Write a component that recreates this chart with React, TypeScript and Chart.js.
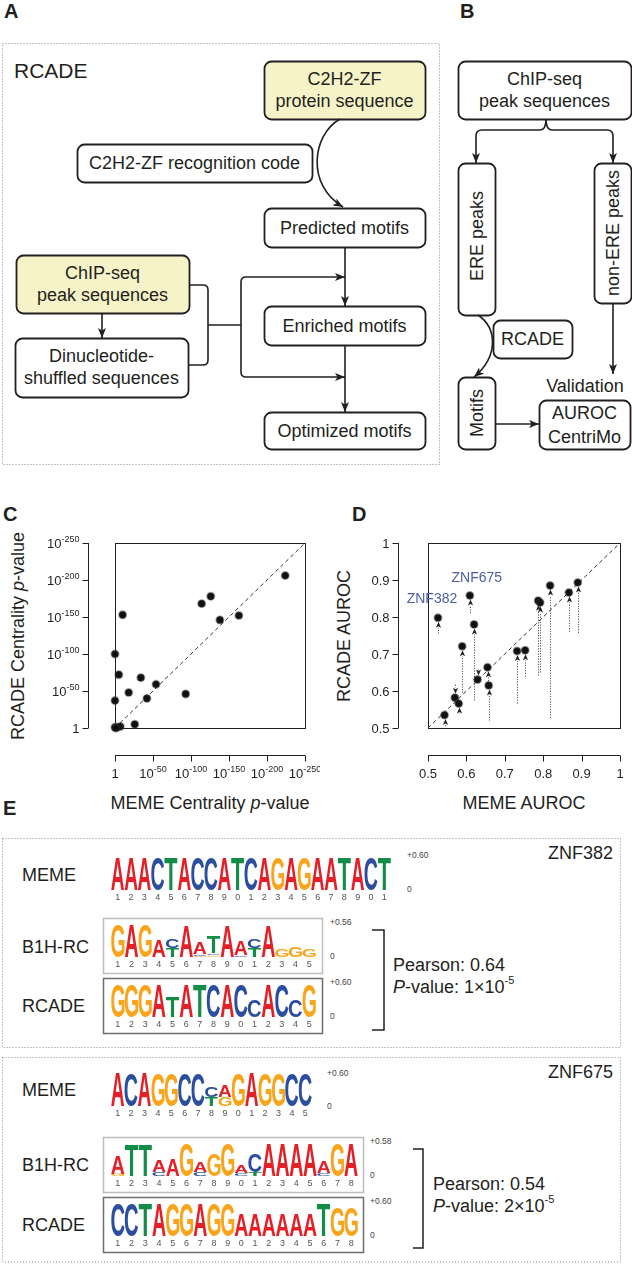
import React, { useEffect, useRef } from 'react';
import { Chart, registerables } from 'chart.js';

Chart.register(...registerables);

const FONT = '"Liberation Sans", Arial, Helvetica, sans-serif';
const INK = '#231f20';

// ---------------- Panel C data (-log10 p-values) ----------------
const cTickValues = [0, 50, 100, 150, 200, 250];
const cTickBases = ['1', '10', '10', '10', '10', '10'];
const cTickExponents = ['', '-50', '-100', '-150', '-200', '-250'];
const cMemeLogP = [224, 114, 126, 10, 138, 163, 0, 5, 34, 18, 0, 42, 54, 93, 26, 0, 3, 7, 1];
const cRcadeLogP = [206, 168, 178, 153, 146, 152, 100, 72, 68, 48, 37, 40, 59, 46, 5, 1, 1, 2, 0];
const cDiagonal = [0, 250];

// ---------------- Panel D data (AUROC) ----------------
const dTickValues = [0.5, 0.6, 0.7, 0.8, 0.9, 1];
const dTickLabels = ['0.5', '0.6', '0.7', '0.8', '0.9', '1'];
const dNames = ['ZNF382', 'ZNF675', '', '', '', '', '', '', '', '', '', '', '', '', '', '', ''];
const dMemeAuroc = [0.526, 0.609, 0.62, 0.589, 0.543, 0.57, 0.58, 0.629, 0.655, 0.658, 0.732, 0.753, 0.787, 0.792, 0.818, 0.867, 0.89];
const dRcadeAuroc = [0.798, 0.858, 0.78, 0.721, 0.535, 0.582, 0.566, 0.631, 0.664, 0.615, 0.708, 0.71, 0.844, 0.839, 0.885, 0.866, 0.893];
const dB1hAuroc = [0.755, 0.81, 0.575, 0.595, 0.505, 0.617, 0.54, 0.656, 0.62, 0.52, 0.566, 0.639, 0.642, 0.65, 0.527, 0.76, 0.757];
const dDiagonal = [0.5, 1];

// ---------------- Panel E logos: stacks bottom -> top [letter, bits] ----------------
type Stack = [string, number][];
const z382Meme: Stack[] = [
  [['A', 0.59]], [['A', 0.59]], [['A', 0.59]], [['C', 0.59]], [['T', 0.59]], [['A', 0.59]], [['C', 0.59]],
  [['C', 0.59]], [['A', 0.59]], [['T', 0.59]], [['C', 0.59]], [['A', 0.59]], [['G', 0.59]], [['A', 0.59]],
  [['G', 0.59]], [['A', 0.59]], [['A', 0.59]], [['T', 0.59]], [['A', 0.59]], [['C', 0.59]], [['T', 0.59]],
];
const z382B1h: Stack[] = [
  [['G', 0.54]], [['A', 0.54]], [['G', 0.54]], [['A', 0.28]], [['T', 0.14], ['C', 0.14]],
  [['A', 0.52]], [['G', 0.02], ['C', 0.03], ['A', 0.2]], [['G', 0.03], ['C', 0.03], ['T', 0.28]],
  [['A', 0.52]], [['C', 0.03], ['A', 0.24]], [['T', 0.14], ['C', 0.14]], [['A', 0.52]],
  [['G', 0.12]], [['G', 0.18]], [['G', 0.12]],
];
const z382Rcade: Stack[] = [
  [['G', 0.58]], [['G', 0.58]], [['G', 0.58]], [['A', 0.58]], [['T', 0.36]], [['A', 0.58]], [['T', 0.58]],
  [['C', 0.58]], [['A', 0.58]], [['C', 0.58]], [['C', 0.3]], [['A', 0.58]], [['C', 0.58]], [['C', 0.3]], [['G', 0.58]],
];
const z675Meme: Stack[] = [
  [['A', 0.59]], [['C', 0.59]], [['A', 0.59]], [['G', 0.59]], [['G', 0.59]], [['C', 0.59]], [['C', 0.59]],
  [['T', 0.15], ['C', 0.18]], [['G', 0.16], ['A', 0.2]], [['G', 0.59]], [['A', 0.59]], [['G', 0.59]],
  [['G', 0.59]], [['C', 0.59]], [['C', 0.59]],
];
const z675B1h: Stack[] = [
  [['G', 0.04], ['A', 0.31]], [['T', 0.53]], [['T', 0.53]], [['C', 0.07], ['A', 0.2]], [['A', 0.28]],
  [['G', 0.56]], [['C', 0.07], ['A', 0.17]], [['G', 0.39]], [['G', 0.56]], [['C', 0.05], ['A', 0.13]],
  [['T', 0.06], ['C', 0.32]], [['A', 0.56]], [['A', 0.56]], [['A', 0.56]], [['A', 0.56]],
  [['C', 0.05], ['A', 0.2]], [['G', 0.56]], [['A', 0.56]],
];
const z675Rcade: Stack[] = [
  [['C', 0.58]], [['C', 0.58]], [['T', 0.58]], [['A', 0.58]], [['G', 0.58]], [['G', 0.58]], [['A', 0.58]],
  [['G', 0.58]], [['G', 0.58]], [['A', 0.38]], [['A', 0.38]], [['A', 0.38]], [['A', 0.38]], [['A', 0.38]],
  [['A', 0.38]], [['T', 0.58]], [['G', 0.52]], [['G', 0.52]],
];

const LETTER_COLORS: Record<string, string> = { A: '#e41f26', C: '#2c4ea1', G: '#f8a51c', T: '#138c47' };

// ---------------- helpers ----------------
function drawPow(ctx: CanvasRenderingContext2D, base: string, exp: string, x: number, y: number, align: string) {
  ctx.font = `13px ${FONT}`;
  const bw = ctx.measureText(base).width;
  ctx.font = `9px ${FONT}`;
  const ew = exp ? ctx.measureText(exp).width : 0;
  const total = bw + ew;
  const sx = align === 'center' ? x - total / 2 : align === 'right' ? x - total : x;
  ctx.textAlign = 'left';
  ctx.textBaseline = 'alphabetic';
  ctx.font = `13px ${FONT}`;
  ctx.fillText(base, sx, y);
  if (exp) {
    ctx.font = `9px ${FONT}`;
    ctx.fillText(exp, sx + bw, y - 5.5);
  }
}

function rAxesPlugin(cfg: any) {
  return {
    id: 'rAxes',
    beforeDatasetsDraw(chart: any) {
      const { ctx, chartArea: a, scales } = chart;
      const xs = scales.x;
      const ys = scales.y;
      ctx.save();
      ctx.strokeStyle = INK;
      ctx.fillStyle = INK;
      ctx.lineWidth = 1;
      ctx.strokeRect(Math.round(a.left) + 0.5, Math.round(a.top) + 0.5, Math.round(a.right - a.left), Math.round(a.bottom - a.top));
      const ax = Math.round(a.left - cfg.yOffset) + 0.5;
      ctx.beginPath();
      ctx.moveTo(ax, ys.getPixelForValue(cfg.yTicks[0]));
      ctx.lineTo(ax, ys.getPixelForValue(cfg.yTicks[cfg.yTicks.length - 1]));
      cfg.yTicks.forEach((v: number) => {
        const py = Math.round(ys.getPixelForValue(v)) + 0.5;
        ctx.moveTo(ax, py);
        ctx.lineTo(ax - 6, py);
      });
      const ay = Math.round(a.bottom + cfg.xOffset) + 0.5;
      ctx.moveTo(xs.getPixelForValue(cfg.xTicks[0]), ay);
      ctx.lineTo(xs.getPixelForValue(cfg.xTicks[cfg.xTicks.length - 1]), ay);
      cfg.xTicks.forEach((v: number) => {
        const px = Math.round(xs.getPixelForValue(v)) + 0.5;
        ctx.moveTo(px, ay);
        ctx.lineTo(px, ay + 6);
      });
      ctx.stroke();
      cfg.yTicks.forEach((v: number, i: number) => {
        drawPow(ctx, cfg.bases[i], cfg.exps[i], ax - 9, ys.getPixelForValue(v) + 4.5, 'right');
      });
      cfg.xTicks.forEach((v: number, i: number) => {
        drawPow(ctx, cfg.bases[i], cfg.exps[i], xs.getPixelForValue(v), ay + 22, 'center');
      });
      ctx.restore();
    },
  };
}

const arrowPlugin = {
  id: 'aurocArrows',
  beforeDatasetsDraw(chart: any) {
    const { ctx, scales } = chart;
    const xs = scales.x;
    const ys = scales.y;
    const r = 4;
    ctx.save();
    dMemeAuroc.forEach((m, i) => {
      const x = Math.round(xs.getPixelForValue(m)) + 0.5;
      const yFrom = ys.getPixelForValue(dB1hAuroc[i]);
      const yPt = ys.getPixelForValue(dRcadeAuroc[i]);
      const up = yPt < yFrom;
      const tip = up ? yPt + r : yPt - r;
      const headBase = up ? tip + 6 : tip - 6;
      ctx.strokeStyle = '#555';
      ctx.lineWidth = 1;
      ctx.setLineDash([1.2, 1.4]);
      ctx.beginPath();
      ctx.moveTo(x, yFrom);
      ctx.lineTo(x, headBase);
      ctx.stroke();
      ctx.setLineDash([]);
      ctx.fillStyle = '#222';
      ctx.beginPath();
      ctx.moveTo(x, tip);
      ctx.lineTo(x - 2.6, headBase);
      ctx.lineTo(x, headBase - (up ? 1.5 : -1.5));
      ctx.lineTo(x + 2.6, headBase);
      ctx.closePath();
      ctx.fill();
    });
    ctx.restore();
  },
  afterDatasetsDraw(chart: any) {
    const { ctx, scales } = chart;
    const offsets: Record<string, [number, number]> = { ZNF382: [-6, -19], ZNF675: [7, -17] };
    ctx.save();
    ctx.fillStyle = '#4b5ea6';
    ctx.font = `14px ${FONT}`;
    ctx.textAlign = 'center';
    ctx.textBaseline = 'middle';
    dNames.forEach((n, i) => {
      if (!n) return;
      const [dx, dy] = offsets[n] || [0, -16];
      ctx.fillText(n, scales.x.getPixelForValue(dMemeAuroc[i]) + dx, scales.y.getPixelForValue(dRcadeAuroc[i]) + dy);
    });
    ctx.restore();
  },
};

const pointStyle = {
  pointRadius: 3.6,
  pointBackgroundColor: '#111',
  pointBorderColor: 'rgba(50,50,50,0.45)',
  pointBorderWidth: 1.8,
  clip: false,
  order: 0,
};

function PanelC() {
  const ref = useRef<HTMLCanvasElement>(null);
  useEffect(() => {
    const chart = new Chart(ref.current as HTMLCanvasElement, {
      type: 'scatter',
      data: {
        datasets: [
          { data: cMemeLogP.map((x, i) => ({ x, y: cRcadeLogP[i] })), ...pointStyle } as any,
          {
            type: 'line', data: cDiagonal.map((v) => ({ x: v, y: v })), borderColor: '#333', borderWidth: 1,
            borderDash: [4, 3], pointRadius: 0, order: 1, clip: false,
          } as any,
        ],
      },
      options: {
        animation: false, responsive: false, events: [],
        layout: { padding: { left: 115, right: 15, top: 43, bottom: 92 } },
        plugins: { legend: { display: false }, tooltip: { enabled: false } },
        scales: {
          x: { type: 'linear', min: 0, max: 250, display: false },
          y: { type: 'linear', min: 0, max: 250, display: false },
        },
      },
      plugins: [rAxesPlugin({ xTicks: cTickValues, yTicks: cTickValues, bases: cTickBases, exps: cTickExponents, xOffset: 27, yOffset: 27 })],
    });
    return () => chart.destroy();
  }, []);
  return <canvas ref={ref} width={320} height={320} style={{ position: 'absolute', left: 0, top: 500 }} />;
}

function PanelD() {
  const ref = useRef<HTMLCanvasElement>(null);
  useEffect(() => {
    const chart = new Chart(ref.current as HTMLCanvasElement, {
      type: 'scatter',
      data: {
        datasets: [
          { data: dMemeAuroc.map((x, i) => ({ x, y: dRcadeAuroc[i] })), ...pointStyle } as any,
          {
            type: 'line', data: dDiagonal.map((v) => ({ x: v, y: v })), borderColor: '#333', borderWidth: 1,
            borderDash: [4, 3], pointRadius: 0, order: 1, clip: false,
          } as any,
        ],
      },
      options: {
        animation: false, responsive: false, events: [],
        layout: { padding: { left: 108, right: 12, top: 43, bottom: 92 } },
        plugins: { legend: { display: false }, tooltip: { enabled: false } },
        scales: {
          x: { type: 'linear', min: 0.5, max: 1, display: false },
          y: { type: 'linear', min: 0.5, max: 1, display: false },
        },
      },
      plugins: [
        rAxesPlugin({ xTicks: dTickValues, yTicks: dTickValues, bases: dTickLabels, exps: dTickLabels.map(() => ''), xOffset: 27, yOffset: 30 }),
        arrowPlugin,
      ],
    });
    return () => chart.destroy();
  }, []);
  return <canvas ref={ref} width={312} height={320} style={{ position: 'absolute', left: 320, top: 500 }} />;
}

const letterPlugin = {
  id: 'logoLetters',
  afterDatasetsDraw(chart: any) {
    const ctx: CanvasRenderingContext2D = chart.ctx;
    chart.data.datasets.forEach((ds: any, d: number) => {
      const meta = chart.getDatasetMeta(d);
      meta.data.forEach((el: any, i: number) => {
        const letter = ds.letters[i];
        if (!letter) return;
        const { x, y, base, width } = el.getProps(['x', 'y', 'base', 'width'], true);
        const h = base - y;
        if (h < 0.4) return;
        ctx.save();
        ctx.font = `bold 100px ${FONT}`;
        ctx.textAlign = 'left';
        ctx.textBaseline = 'alphabetic';
        const m = ctx.measureText(letter);
        const iw = m.actualBoundingBoxLeft + m.actualBoundingBoxRight;
        const ih = m.actualBoundingBoxAscent + m.actualBoundingBoxDescent;
        ctx.translate(x - width / 2, y);
        ctx.scale(width / iw, h / ih);
        ctx.fillStyle = LETTER_COLORS[letter];
        ctx.fillText(letter, m.actualBoundingBoxLeft, m.actualBoundingBoxAscent);
        ctx.restore();
      });
    });
  },
};

function Logo({ left, top, width, height, stacks, max }: any) {
  const ref = useRef<HTMLCanvasElement>(null);
  useEffect(() => {
    const labels = stacks.map((_: any, i: number) => String((i + 1) % 10));
    const depth = Math.max(...stacks.map((s: Stack) => s.length));
    const datasets: any[] = [];
    for (let r = 0; r < depth; r++) {
      datasets.push({
        data: stacks.map((s: Stack) => (s[r] ? s[r][1] : 0)),
        letters: stacks.map((s: Stack) => (s[r] ? s[r][0] : '')),
        backgroundColor: 'rgba(0,0,0,0)',
        borderWidth: 0,
        barPercentage: 0.97,
        categoryPercentage: 1,
      });
    }
    const chart = new Chart(ref.current as HTMLCanvasElement, {
      type: 'bar',
      data: { labels, datasets },
      options: {
        animation: false, responsive: false, events: [],
        layout: { padding: 0 },
        plugins: { legend: { display: false }, tooltip: { enabled: false } },
        scales: {
          x: {
            stacked: true,
            grid: { display: false, drawTicks: false },
            border: { display: false },
            ticks: { font: { size: 9, family: FONT }, color: '#555', padding: 2, maxRotation: 0, autoSkip: false },
            afterFit: (s: any) => { s.height = 12; },
          },
          y: { stacked: true, display: false, min: 0, max },
        },
      } as any,
      plugins: [letterPlugin],
    });
    return () => chart.destroy();
  }, []);
  return <canvas ref={ref} width={width} height={height + 12} style={{ position: 'absolute', left, top }} />;
}

const logoSpecs = [
  { key: 'a', left: 111, top: 857, width: 280, height: 33, stacks: z382Meme, max: 0.6 },
  { key: 'b', left: 111, top: 923, width: 205, height: 34, stacks: z382B1h, max: 0.56 },
  { key: 'c', left: 111, top: 983, width: 205, height: 34, stacks: z382Rcade, max: 0.6 },
  { key: 'd', left: 111, top: 1072, width: 201, height: 34, stacks: z675Meme, max: 0.6 },
  { key: 'e', left: 111, top: 1142, width: 247, height: 34, stacks: z675B1h, max: 0.58 },
  { key: 'f', left: 111, top: 1202, width: 247, height: 34, stacks: z675Rcade, max: 0.6 },
];

function Box({ x, y, w, h, fill = '#fff' }: any) {
  return <rect x={x + 0.5} y={y + 0.5} width={w} height={h} rx={7} ry={7} fill={fill} stroke={INK} strokeWidth={1.8} />;
}

function Txt({ x, y, children, size = 18, anchor = 'middle', ...rest }: any) {
  return (
    <text x={x} y={y} fontSize={size} textAnchor={anchor} dominantBaseline="central" fontFamily={FONT} fill={INK} {...rest}>
      {children}
    </text>
  );
}

function VTxt({ x, y, children, size = 18 }: any) {
  return (
    <text transform={`translate(${x},${y}) rotate(-90)`} fontSize={size} textAnchor="middle" dominantBaseline="central" fontFamily={FONT} fill={INK}>
      {children}
    </text>
  );
}

function Diagram() {
  const yellow = '#f6f3c8';
  const line = { fill: 'none', stroke: INK, strokeWidth: 1.6 };
  const arrow = { ...line, markerEnd: 'url(#ah)' };
  const dotted = { fill: 'none', stroke: '#8a8a8a', strokeWidth: 1, strokeDasharray: '1 2' };
  const small = { size: 8.5, anchor: 'start', fill: '#444' };
  return (
    <svg width={632} height={1265} style={{ position: 'absolute', left: 0, top: 0 }}>
      <defs>
        <marker id="ah" viewBox="0 0 10 8" refX="10" refY="4" markerWidth="10" markerHeight="8" markerUnits="userSpaceOnUse" orient="auto">
          <path d="M0,0 L10,4 L0,8 L2.5,4 Z" fill={INK} />
        </marker>
      </defs>

      {/* Panel labels */}
      <Txt x={4} y={11} size={20} anchor="start" fontWeight="bold">A</Txt>
      <Txt x={460} y={11} size={20} anchor="start" fontWeight="bold">B</Txt>
      <Txt x={3} y={514} size={20} anchor="start" fontWeight="bold">C</Txt>
      <Txt x={352} y={514} size={20} anchor="start" fontWeight="bold">D</Txt>
      <Txt x={3} y={808} size={20} anchor="start" fontWeight="bold">E</Txt>

      {/* Panel A */}
      <rect x={2.5} y={43.5} width={437} height={421} {...dotted} />
      <Txt x={14} y={70} size={21} anchor="start">RCADE</Txt>
      <Box x={264} y={61} w={161} h={58} fill={yellow} />
      <Txt x={344.5} y={79}>C2H2-ZF</Txt>
      <Txt x={344.5} y={101}>protein sequence</Txt>
      <Box x={77} y={144} w={235} h={38} />
      <Txt x={194.5} y={163}>C2H2-ZF recognition code</Txt>
      <path d="M340 119 C312 135 306 185 343 207" {...arrow} />
      <Box x={264} y={208} w={161} h={39} />
      <Txt x={344.5} y={227.5}>Predicted motifs</Txt>
      <path d="M345 247 V306" {...arrow} />
      <Box x={264} y={306} w={161} h={39} />
      <Txt x={344.5} y={325.5}>Enriched motifs</Txt>
      <path d="M345 345 V412" {...arrow} />
      <Box x={264} y={412} w={161} h={37} />
      <Txt x={344.5} y={430.5}>Optimized motifs</Txt>
      <Box x={16} y={255} w={173} h={58} fill={yellow} />
      <Txt x={102.5} y={273}>ChIP-seq</Txt>
      <Txt x={102.5} y={295}>peak sequences</Txt>
      <path d="M102 313 V338" {...arrow} />
      <Box x={15} y={338} w={173} h={59} />
      <Txt x={101.5} y={356}>Dinucleotide-</Txt>
      <Txt x={101.5} y={378}>shuffled sequences</Txt>
      <path d="M189 285 H203 Q208 285 208 290 V360 Q208 365 203 365 H188" {...line} />
      <path d="M208 325 H241" {...line} />
      <path d="M241 325 V282 Q241 277 246 277 H345" {...arrow} />
      <path d="M241 325 V372 Q241 377 246 377 H345" {...arrow} />

      {/* Panel B */}
      <Box x={458} y={61} w={173} h={58} />
      <Txt x={544.5} y={79}>ChIP-seq</Txt>
      <Txt x={544.5} y={101}>peak sequences</Txt>
      <path d="M546 119 Q546 130 540 130 H482 Q476 130 476 136 V163" {...arrow} />
      <path d="M546 119 Q546 130 552 130 H607 Q613 130 613 136 V163" {...arrow} />
      <Box x={458} y={163} w={37} h={152} />
      <VTxt x={476.5} y={236}>ERE peaks</VTxt>
      <Box x={594} y={163} w={37} h={140} />
      <VTxt x={612.5} y={233}>non-ERE peaks</VTxt>
      <Box x={493} y={320} w={79} h={38} />
      <Txt x={532.5} y={339}>RCADE</Txt>
      <path d="M478 315 C497 328 499 356 474 377" {...arrow} />
      <path d="M613 303 V374" {...arrow} />
      <Txt x={585} y={386}>Validation</Txt>
      <Box x={458} y={377} w={37} h={72} />
      <VTxt x={476.5} y={413}>Motifs</VTxt>
      <path d="M495 424 H539" {...arrow} />
      <Box x={539} y={400} w={91} h={49} />
      <Txt x={584.5} y={413}>AUROC</Txt>
      <Txt x={584.5} y={437}>CentriMo</Txt>

      {/* Axis titles C / D */}
      <text transform="translate(18,636) rotate(-90)" fontSize={18} textAnchor="middle" dominantBaseline="central" fontFamily={FONT} fill={INK}>
        RCADE Centrality <tspan fontStyle="italic">p</tspan>-value
      </text>
      <Txt x={210} y={803}>
        MEME Centrality <tspan fontStyle="italic">p</tspan>-value
      </Txt>
      <VTxt x={344} y={636}>RCADE AUROC</VTxt>
      <Txt x={524} y={803}>MEME AUROC</Txt>

      {/* Panel E: ZNF382 */}
      <rect x={2.5} y={838.5} width={618} height={209} {...dotted} />
      <Txt x={613} y={853} anchor="end">ZNF382</Txt>
      <Txt x={22} y={875} anchor="start">MEME</Txt>
      <Txt x={407} y={855} {...small}>+0.60</Txt>
      <Txt x={407} y={889} {...small}>0</Txt>
      <Txt x={22} y={947} anchor="start">B1H-RC</Txt>
      <rect x={103.5} y={918.5} width={219} height={55} fill="none" stroke="#bdbdbd" strokeWidth={1.5} />
      <Txt x={330} y={922} {...small}>+0.56</Txt>
      <Txt x={330} y={956} {...small}>0</Txt>
      <Txt x={22} y={1006} anchor="start">RCADE</Txt>
      <rect x={103.5} y={978.5} width={219} height={55} fill="none" stroke="#6d6d6d" strokeWidth={1.5} />
      <Txt x={330} y={982} {...small}>+0.60</Txt>
      <Txt x={330} y={1016} {...small}>0</Txt>
      <path d="M372 930 H384 V1030 H372" fill="none" stroke={INK} strokeWidth={1.5} />
      <Txt x={393} y={965} anchor="start">Pearson: 0.64</Txt>
      <Txt x={393} y={987} anchor="start">
        <tspan fontStyle="italic">P</tspan>-value: 1×10<tspan fontSize={11} dy={-7}>-5</tspan>
      </Txt>

      {/* Panel E: ZNF675 */}
      <rect x={2.5} y={1057.5} width={618} height={204.5} {...dotted} />
      <Txt x={613} y={1072} anchor="end">ZNF675</Txt>
      <Txt x={22} y={1090} anchor="start">MEME</Txt>
      <Txt x={327} y={1073} {...small}>+0.60</Txt>
      <Txt x={327} y={1106} {...small}>0</Txt>
      <Txt x={22} y={1165} anchor="start">B1H-RC</Txt>
      <rect x={103.5} y={1137.5} width={260} height={55} fill="none" stroke="#bdbdbd" strokeWidth={1.5} />
      <Txt x={370} y={1141} {...small}>+0.58</Txt>
      <Txt x={370} y={1175} {...small}>0</Txt>
      <Txt x={22} y={1225} anchor="start">RCADE</Txt>
      <rect x={103.5} y={1197.5} width={260} height={55} fill="none" stroke="#6d6d6d" strokeWidth={1.5} />
      <Txt x={370} y={1201} {...small}>+0.60</Txt>
      <Txt x={370} y={1235} {...small}>0</Txt>
      <path d="M413 1149 H423 V1248 H413" fill="none" stroke={INK} strokeWidth={1.5} />
      <Txt x={433} y={1184} anchor="start">Pearson: 0.54</Txt>
      <Txt x={433} y={1206} anchor="start">
        <tspan fontStyle="italic">P</tspan>-value: 2×10<tspan fontSize={11} dy={-7}>-5</tspan>
      </Txt>
    </svg>
  );
}

export default function App() {
  return (
    <div style={{ position: 'absolute', left: 0, top: 0, width: 632, height: 1265, background: '#fff', overflow: 'hidden' }}>
      <Diagram />
      <PanelC />
      <PanelD />
      {logoSpecs.map((s) => (
        <Logo key={s.key} left={s.left} top={s.top} width={s.width} height={s.height} stacks={s.stacks} max={s.max} />
      ))}
    </div>
  );
}
